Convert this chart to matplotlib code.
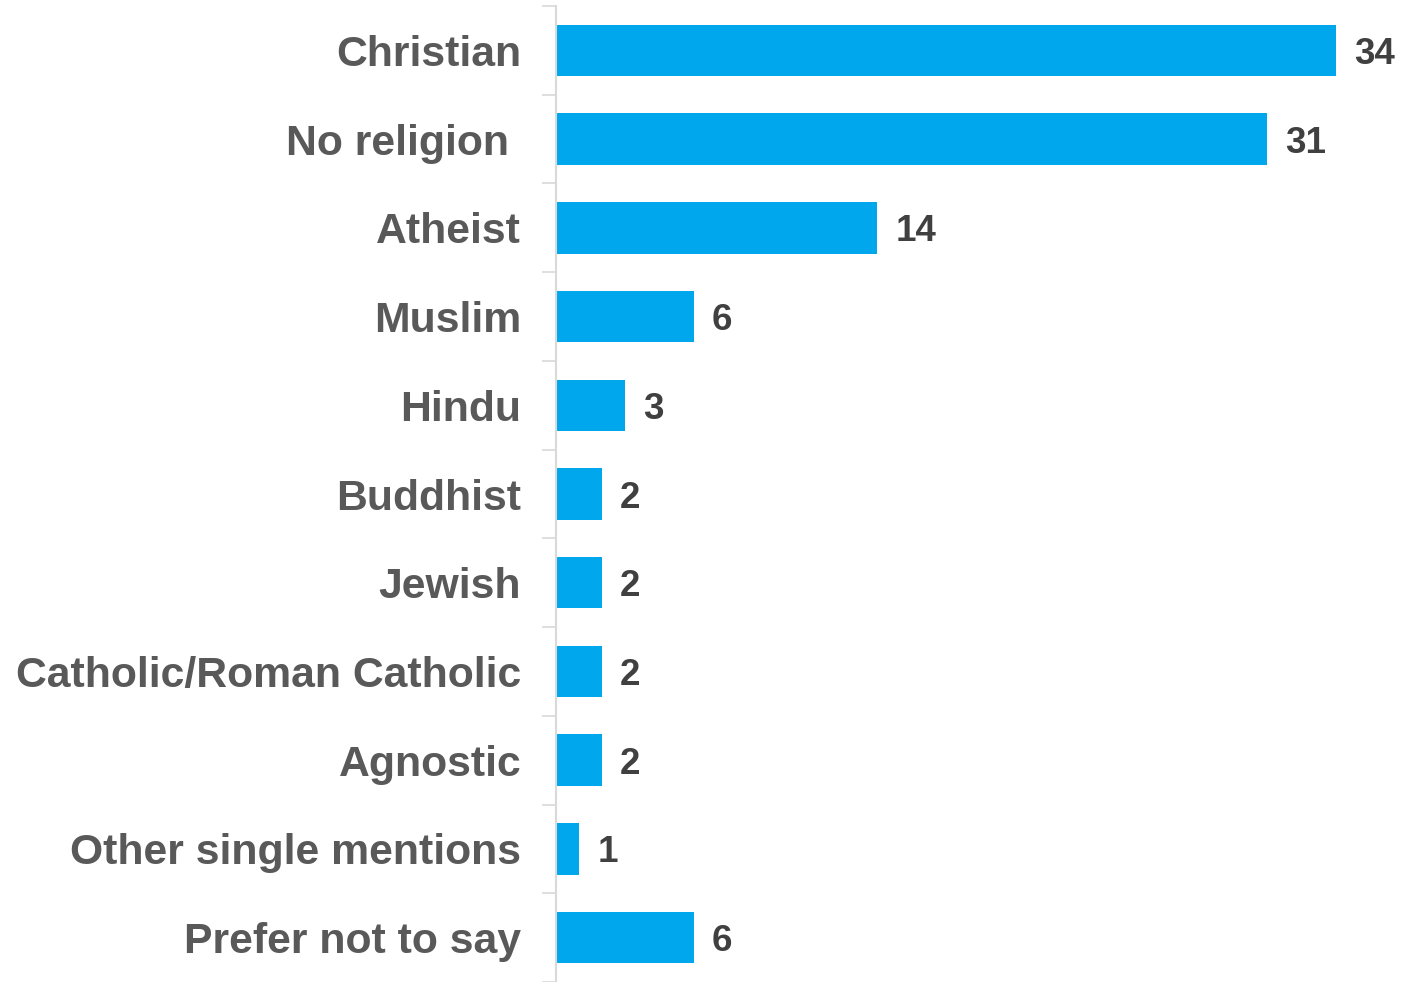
import numpy as np
import matplotlib.pyplot as plt

# religion breakdown, percent of respondents
categories = ['Christian', 'No religion ', 'Atheist', 'Muslim', 'Hindu', 'Buddhist',
              'Jewish', 'Catholic/Roman Catholic', 'Agnostic',
              'Other single mentions', 'Prefer not to say']
values = [34, 31, 14, 6, 3, 2, 2, 2, 2, 1, 6]

bar_color = '#00A7EC'
label_color = '#595959'
value_color = '#404040'
axis_color = '#D9D9D9'

plt.rcParams['font.family'] = ['Liberation Sans', 'DejaVu Sans']

fig = plt.figure(figsize=(14.02, 9.82), dpi=100)
W, H = 1402.0, 982.0
ax = fig.add_axes([556/W, 0.0, (1336-556)/W, (982-6)/H])

y = np.arange(len(categories))
ax.barh(y, values, height=0.58, color=bar_color)

# value labels just past the end of each bar
for yi, v in zip(y, values):
    ax.text(v + 0.8, yi, str(v), va='center_baseline', ha='left', fontsize=26.5,
            fontweight='bold', color=value_color, clip_on=False)

ax.set_xlim(0, 34)
ax.set_ylim((982-6)/89.0 - 0.5, -0.5)

ax.set_yticks(y)
ax.set_yticklabels(categories, fontsize=30.8, fontweight='bold', color=label_color,
                   va='center_baseline')
ax.tick_params(axis='y', which='major', length=0, pad=25)
ax.set_yticks(np.arange(-0.5, len(categories) + 0.5, 1), minor=True)
ax.tick_params(axis='y', which='minor', length=10, width=1.2, color=axis_color)
ax.set_xticks([])

for s in ['top', 'right', 'bottom']:
    ax.spines[s].set_visible(False)
ax.spines['left'].set_color(axis_color)
ax.spines['left'].set_linewidth(1.5)

fig.savefig('out.png', dpi=100)
